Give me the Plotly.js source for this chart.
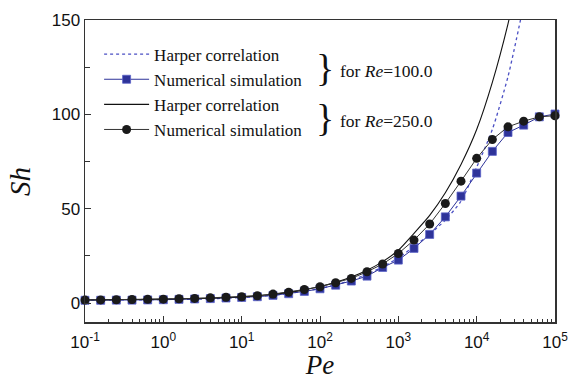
<!DOCTYPE html>
<html>
<head>
<meta charset="utf-8">
<script src="https://cdn.plot.ly/plotly-3.0.1.min.js"></script>
<style>html,body{margin:0;padding:0;background:#fff;}#chart{width:570px;height:380px;}</style>
</head>
<body>
<div id="chart"></div>
<script>
// Peclet numbers of the simulation points
const pe = [0.1, 0.1585, 0.2512, 0.3981, 0.631, 1, 1.585, 2.512, 3.981, 6.31, 10, 15.85, 25.12, 39.81, 63.1, 100, 158.5, 251.2, 398.1, 631, 1000, 1585, 2512, 3981, 6310, 10000, 15850, 25120, 39810, 63100, 100000];
// Numerical simulation, Re = 100.0 (blue squares)
const numRe100 = [1.5, 1.5, 1.6, 1.6, 1.7, 1.8, 2.0, 2.2, 2.4, 2.7, 3.0, 3.4, 4.1, 5.0, 6.2, 7.6, 9.5, 11.7, 14.3, 18.9, 22.8, 29.0, 36.4, 45.7, 56.7, 68.9, 80.4, 90.4, 94.3, 98.7, 100.2];
// Numerical simulation, Re = 250.0 (black circles)
const numRe250 = [1.6, 1.7, 1.8, 1.9, 2.0, 2.1, 2.3, 2.5, 2.8, 3.1, 3.4, 3.9, 4.8, 5.8, 7.2, 8.7, 10.8, 13.1, 16.6, 20.7, 26.3, 33.4, 41.9, 52.8, 64.6, 76.7, 86.7, 93.4, 96.4, 98.7, 99.3];
// Harper correlation curves
const harperPe = [0.1, 0.1585, 0.2512, 0.3981, 0.631, 1, 1.585, 2.512, 3.981, 6.31, 10, 15.85, 25.12, 39.81, 63.1, 100, 158.5, 251.2, 398.1, 631, 1000, 1585, 2512, 3981, 6310, 10000, 15850, 25120, 39810];
const harperRe100 = [1.6, 1.6, 1.7, 1.7, 1.8, 1.9, 2.0, 2.1, 2.3, 2.6, 3.0, 3.5, 4.2, 5.1, 6.3, 7.8, 9.7, 12.2, 15.3, 19.2, 24, 30, 36.5, 44, 54, 72, 92, 120, 158];
const harperRe250 = [1.8, 1.8, 1.9, 1.9, 2.0, 2.1, 2.2, 2.4, 2.6, 2.9, 3.3, 3.9, 4.7, 5.7, 7.0, 8.8, 11.0, 13.8, 17.4, 22.0, 28, 37, 46.5, 58.5, 73.5, 92, 117, 148, 186];
// Axis ticks
const xTickVals = [0.1, 1, 10, 100, 1000, 10000, 100000];
const xTickText = ['10<sup>-1</sup>', '10<sup>0</sup>', '10<sup>1</sup>', '10<sup>2</sup>', '10<sup>3</sup>', '10<sup>4</sup>', '10<sup>5</sup>'];
const yTickVals = [0, 50, 100, 150];
const legendNames = ['Harper correlation', 'Numerical simulation', 'Harper correlation', 'Numerical simulation'];
const groupLabels = ['for <i>Re</i>=100.0', 'for <i>Re</i>=250.0'];
const xTitle = '<i>Pe</i>';
const yTitle = '<i>Sh</i>';

const minorX = [];
for (let d = -1; d < 5; d++) { for (let m = 2; m <= 9; m++) minorX.push(m * Math.pow(10, d)); }

const blue = '#2e3399';
const serif = 'Liberation Serif';
const sans = 'Liberation Sans';

const traces = [
  {x: harperPe, y: harperRe100, name: legendNames[0], mode: 'lines', line: {color: '#4a4fc4', width: 1.3, dash: 'dot', shape: 'spline', smoothing: 0.6}},
  {x: pe, y: numRe100, name: legendNames[1], mode: 'lines+markers', line: {color: blue, width: 1}, marker: {symbol: 'square', size: 8, color: blue, line: {color: '#5a62c8', width: 0.8}}, cliponaxis: false},
  {x: harperPe, y: harperRe250, name: legendNames[2], mode: 'lines', line: {color: '#111', width: 1.1, shape: 'spline', smoothing: 0.6}},
  {x: pe, y: numRe250, name: legendNames[3], mode: 'lines+markers', line: {color: '#333', width: 1}, marker: {symbol: 'circle', size: 9, color: '#1a1a1a'}, cliponaxis: false}
];

const layout = {
  width: 570, height: 380,
  margin: {l: 85, r: 15, t: 20, b: 58},
  paper_bgcolor: '#fff', plot_bgcolor: '#fff',
  showlegend: true,
  legend: {x: 0.03, y: 0.945, xanchor: 'left', yanchor: 'top', bgcolor: 'rgba(0,0,0,0)', font: {family: serif, size: 17, color: '#111'}, itemwidth: 45, tracegroupgap: 0},
  xaxis: {
    type: 'log', range: [-1, 5], tickmode: 'array', tickvals: xTickVals, ticktext: xTickText,
    ticks: 'inside', ticklen: 6, tickwidth: 1, tickcolor: '#333', ticklabelstandoff: 4,
    minor: {tickmode: 'array', tickvals: minorX, ticks: 'inside', ticklen: 3, tickcolor: '#333', showgrid: false},
    showline: true, mirror: true, linecolor: '#333', linewidth: 1.5, showgrid: false, zeroline: false,
    tickfont: {family: sans, size: 17, color: '#111'},
    title: {text: xTitle, font: {family: serif, size: 27, color: '#111'}, standoff: 9}
  },
  yaxis: {
    range: [-10, 150], tickmode: 'array', tickvals: yTickVals,
    ticks: 'inside', ticklen: 6, tickwidth: 1, tickcolor: '#333',
    minor: {dtick: 25, tick0: 0, ticks: 'inside', ticklen: 5, tickcolor: '#333', showgrid: false},
    showline: true, mirror: true, linecolor: '#333', linewidth: 1.5, showgrid: false, zeroline: false,
    tickfont: {family: sans, size: 17, color: '#111'}
  },
  annotations: [
    {xref: 'paper', yref: 'paper', x: -0.138, y: 0.464, xanchor: 'center', yanchor: 'middle', textangle: -90, text: yTitle, showarrow: false, font: {family: serif, size: 29, color: '#111'}},
    {xref: 'paper', yref: 'paper', x: 0.531, y: 0.842, xanchor: 'right', yanchor: 'middle', text: '}', showarrow: false, borderpad: 0, font: {family: serif, size: 38, color: '#111'}},
    {xref: 'paper', yref: 'paper', x: 0.540, y: 0.832, xanchor: 'left', yanchor: 'middle', text: groupLabels[0], showarrow: false, borderpad: 0, font: {family: serif, size: 17.5, color: '#111'}},
    {xref: 'paper', yref: 'paper', x: 0.531, y: 0.676, xanchor: 'right', yanchor: 'middle', text: '}', showarrow: false, borderpad: 0, font: {family: serif, size: 38, color: '#111'}},
    {xref: 'paper', yref: 'paper', x: 0.540, y: 0.667, xanchor: 'left', yanchor: 'middle', text: groupLabels[1], showarrow: false, borderpad: 0, font: {family: serif, size: 17.5, color: '#111'}}
  ]
};

Plotly.newPlot('chart', traces, layout, {displayModeBar: false, staticPlot: true});
</script>
</body>
</html>
